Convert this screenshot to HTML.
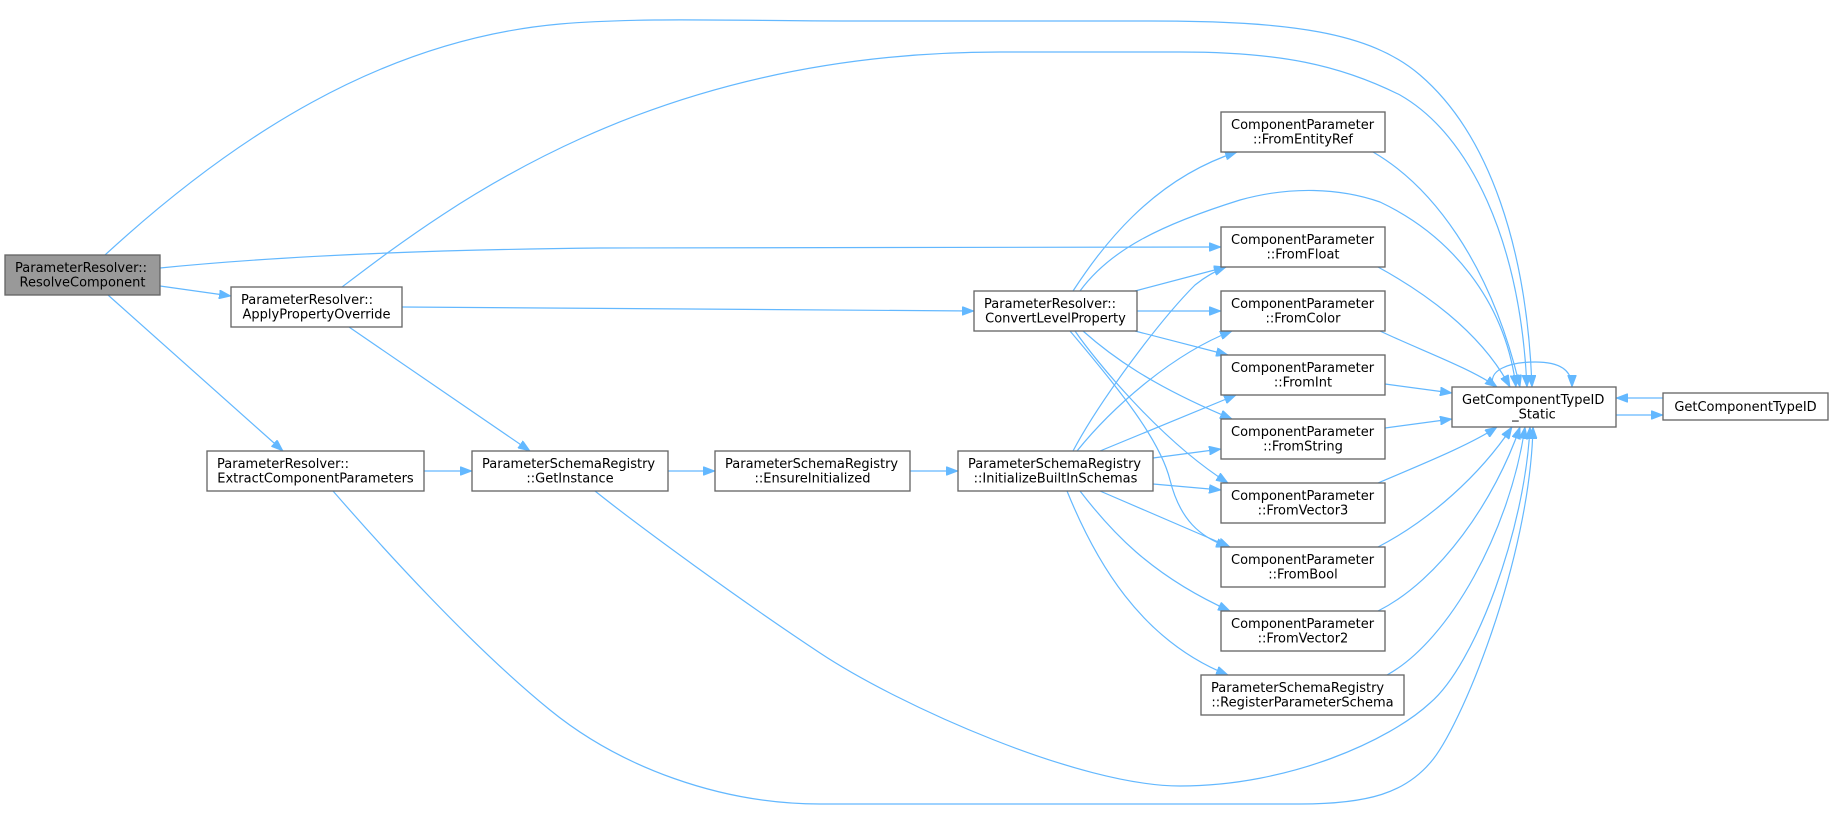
<!DOCTYPE html>
<html>
<head>
<meta charset="utf-8">
<style>
  html, body { margin: 0; padding: 0; background: #ffffff; }
  svg { display: block; }
  text { font-family: "DejaVu Sans", "Liberation Sans", sans-serif; font-size: 13px; fill: #000; }
  .n { fill: #ffffff; stroke: #666666; stroke-width: 1.33; }
  .h { fill: #999999; stroke: #666666; stroke-width: 1.33; }
  .e { fill: none; stroke: #63b8ff; stroke-width: 1.2; marker-end: url(#ah); }
</style>
</head>
<body>
<svg width="1833" height="837" viewBox="0 0 1833 837" xmlns="http://www.w3.org/2000/svg">
  <defs>
    <marker id="ah" viewBox="0 0 12 9" refX="12" refY="4.5" markerWidth="12" markerHeight="9" markerUnits="userSpaceOnUse" orient="auto">
      <path d="M0,0 L12,4.5 L0,9 z" fill="#63b8ff" stroke="#63b8ff" stroke-width="0.8"/>
    </marker>
  </defs>
  <rect x="0" y="0" width="1833" height="837" fill="#ffffff"/>

  <!-- edges -->
  <path class="e" d="M105,255 C230,140 380,40 560,24 C640,17 740,21 850,21 L1150,21 C1290,21 1370,32 1420,75 C1490,135 1527,250 1532,387"/>
  <path class="e" d="M160,268 C260,258 400,250 600,248 L1221,247"/>
  <path class="e" d="M160,286 L231,296"/>
  <path class="e" d="M108,295 L283,451"/>
  <path class="e" d="M342,287 C450,205 650,52 1000,52 L1180,52 C1280,52 1340,65 1400,95 C1470,135 1520,240 1527,387"/>
  <path class="e" d="M402,307 L974,311"/>
  <path class="e" d="M349,327 L530,451"/>
  <path class="e" d="M424,471 L472,471"/>
  <path class="e" d="M333,491 C380,545 470,645 550,710 C620,767 720,804 820,804 L1300,804 C1370,804 1405,792 1430,763 C1460,730 1530,560 1533,427"/>
  <path class="e" d="M668,471 L715,471"/>
  <path class="e" d="M595,491 C640,527 740,600 820,653 C900,706 1080,786 1180,786 C1290,786 1390,740 1430,703 C1475,665 1525,530 1530,427"/>
  <path class="e" d="M910,471 L958,471"/>

  <path class="e" d="M1073,291 C1100,250 1150,180 1237,152"/>
  <path class="e" d="M1080,291 C1110,250 1160,225 1240,200 C1290,186 1340,188 1380,202 C1450,235 1505,300 1516,387"/>
  <path class="e" d="M1135,291 L1226,267"/>
  <path class="e" d="M1137,311 L1221,311"/>
  <path class="e" d="M1135,331 L1228,355"/>
  <path class="e" d="M1083,331 C1110,355 1150,385 1232,419"/>
  <path class="e" d="M1075,331 C1095,360 1160,440 1228,483"/>
  <path class="e" d="M1070,331 C1120,390 1160,440 1170,480 C1180,520 1200,537 1228,547"/>

  <path class="e" d="M1073,451 C1100,400 1160,320 1195,285 C1205,277 1215,271 1226,267"/>
  <path class="e" d="M1077,451 C1110,410 1170,355 1232,331"/>
  <path class="e" d="M1100,451 L1236,395"/>
  <path class="e" d="M1153,458 L1221,449"/>
  <path class="e" d="M1153,484 L1221,490"/>
  <path class="e" d="M1100,491 L1230,547"/>
  <path class="e" d="M1080,491 C1110,530 1150,575 1230,611"/>
  <path class="e" d="M1067,491 C1095,560 1140,640 1228,675"/>

  <path class="e" d="M1373,152 C1430,185 1490,260 1520,387"/>
  <path class="e" d="M1378,267 C1420,290 1480,330 1510,387"/>
  <path class="e" d="M1380,331 C1420,350 1470,368 1497,387"/>
  <path class="e" d="M1385,384 L1452,393"/>
  <path class="e" d="M1385,428 L1452,419"/>
  <path class="e" d="M1378,483 C1420,465 1470,445 1497,427"/>
  <path class="e" d="M1378,547 C1430,520 1480,475 1512,427"/>
  <path class="e" d="M1378,611 C1440,580 1495,500 1520,427"/>
  <path class="e" d="M1387,675 C1450,640 1510,530 1525,427"/>
  <path class="e" d="M1494,387 C1486,370 1510,362 1535,362 C1560,362 1572,370 1572,387"/>
  <path class="e" d="M1663,398 L1616,398"/>
  <path class="e" d="M1616,415 L1663,415"/>

  <!-- nodes -->
  <rect class="h" x="5" y="255" width="155" height="40"/>
  <text x="15" y="272">ParameterResolver::</text>
  <text x="82.5" y="286.5" text-anchor="middle">ResolveComponent</text>

  <rect class="n" x="231" y="287" width="171" height="40"/>
  <text x="241" y="304">ParameterResolver::</text>
  <text x="316.5" y="318.5" text-anchor="middle">ApplyPropertyOverride</text>

  <rect class="n" x="207" y="451" width="217" height="40"/>
  <text x="217" y="468">ParameterResolver::</text>
  <text x="315.5" y="482.5" text-anchor="middle">ExtractComponentParameters</text>

  <rect class="n" x="472" y="451" width="196" height="40"/>
  <text x="482" y="468">ParameterSchemaRegistry</text>
  <text x="570" y="482.5" text-anchor="middle">::GetInstance</text>

  <rect class="n" x="715" y="451" width="195" height="40"/>
  <text x="725" y="468">ParameterSchemaRegistry</text>
  <text x="812.5" y="482.5" text-anchor="middle">::EnsureInitialized</text>

  <rect class="n" x="958" y="451" width="195" height="40"/>
  <text x="968" y="468">ParameterSchemaRegistry</text>
  <text x="1055.5" y="482.5" text-anchor="middle">::InitializeBuiltInSchemas</text>

  <rect class="n" x="974" y="291" width="163" height="40"/>
  <text x="984" y="308">ParameterResolver::</text>
  <text x="1055.5" y="322.5" text-anchor="middle">ConvertLevelProperty</text>

  <rect class="n" x="1221" y="112" width="164" height="40"/>
  <text x="1231" y="129">ComponentParameter</text>
  <text x="1303" y="143.5" text-anchor="middle">::FromEntityRef</text>

  <rect class="n" x="1221" y="227" width="164" height="40"/>
  <text x="1231" y="244">ComponentParameter</text>
  <text x="1303" y="258.5" text-anchor="middle">::FromFloat</text>

  <rect class="n" x="1221" y="291" width="164" height="40"/>
  <text x="1231" y="308">ComponentParameter</text>
  <text x="1303" y="322.5" text-anchor="middle">::FromColor</text>

  <rect class="n" x="1221" y="355" width="164" height="40"/>
  <text x="1231" y="372">ComponentParameter</text>
  <text x="1303" y="386.5" text-anchor="middle">::FromInt</text>

  <rect class="n" x="1221" y="419" width="164" height="40"/>
  <text x="1231" y="436">ComponentParameter</text>
  <text x="1303" y="450.5" text-anchor="middle">::FromString</text>

  <rect class="n" x="1221" y="483" width="164" height="40"/>
  <text x="1231" y="500">ComponentParameter</text>
  <text x="1303" y="514.5" text-anchor="middle">::FromVector3</text>

  <rect class="n" x="1221" y="547" width="164" height="40"/>
  <text x="1231" y="564">ComponentParameter</text>
  <text x="1303" y="578.5" text-anchor="middle">::FromBool</text>

  <rect class="n" x="1221" y="611" width="164" height="40"/>
  <text x="1231" y="628">ComponentParameter</text>
  <text x="1303" y="642.5" text-anchor="middle">::FromVector2</text>

  <rect class="n" x="1201" y="675" width="203" height="40"/>
  <text x="1211" y="692">ParameterSchemaRegistry</text>
  <text x="1302.5" y="706.5" text-anchor="middle">::RegisterParameterSchema</text>

  <rect class="n" x="1452" y="387" width="164" height="40"/>
  <text x="1462" y="404">GetComponentTypeID</text>
  <text x="1534" y="418.5" text-anchor="middle">_Static</text>

  <rect class="n" x="1663" y="393" width="165" height="27"/>
  <text x="1745.5" y="411" text-anchor="middle">GetComponentTypeID</text>
</svg>
</body>
</html>
